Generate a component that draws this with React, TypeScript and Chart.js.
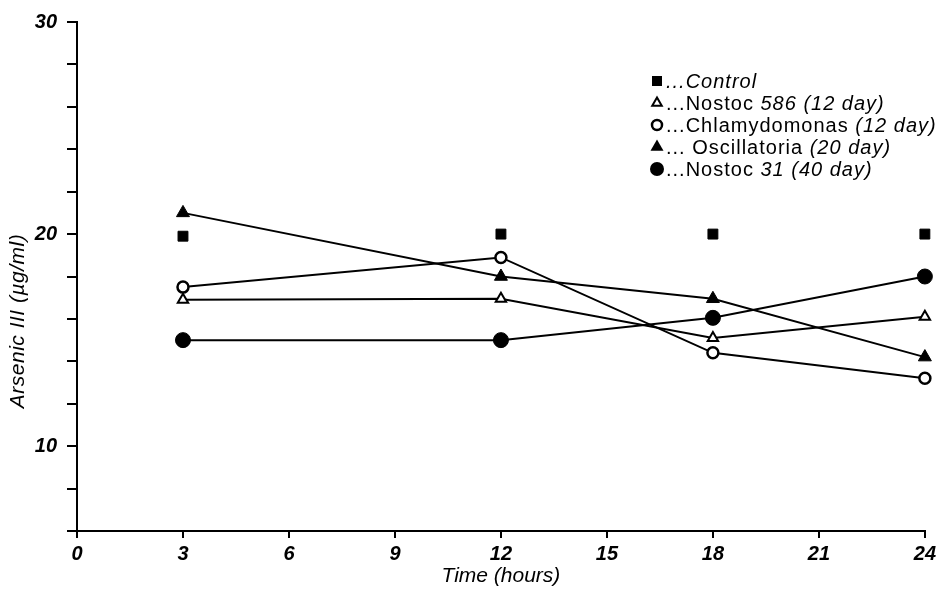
import React, { useEffect, useRef } from 'react';
import { Chart, registerables } from 'chart.js';

Chart.register(...registerables);

// ---- data ----
const hours = [3, 12, 18, 24];
const control = [19.9, 20.0, 20.0, 20.0];
const nostoc586 = [16.9, 16.95, 15.1, 16.1];
const chlamydomonas = [17.5, 18.9, 14.4, 13.2];
const oscillatoria = [21.0, 18.0, 16.95, 14.2];
const nostoc31 = [15.0, 15.0, 16.05, 18.0];

const xTickValues = [0, 3, 6, 9, 12, 15, 18, 21, 24];
const yLabelledTicks = [10, 20, 30];
const xTitle = 'Time (hours)';
const yTitle = 'Arsenic III (µg/ml)';

type Part = { text: string; italic: boolean };
const legendMarkers = ['square', 'openTriangle', 'openCircle', 'triangle', 'circle'];
const legendParts: Part[][] = [
  [{ text: '...Control', italic: true }],
  [{ text: '...Nostoc ', italic: false }, { text: '586 (12 day)', italic: true }],
  [{ text: '...Chlamydomonas ', italic: false }, { text: '(12 day)', italic: true }],
  [{ text: '... Oscillatoria ', italic: false }, { text: '(20 day)', italic: true }],
  [{ text: '...Nostoc ', italic: false }, { text: '31 (40 day)', italic: true }],
];

const FONT = '"Liberation Sans", Arial, Helvetica, sans-serif';

const toPoints = (ys: number[]) => hours.map((x, i) => ({ x, y: ys[i] }));

function drawMarker(ctx: CanvasRenderingContext2D, kind: string, x: number, y: number) {
  ctx.save();
  ctx.fillStyle = '#000';
  ctx.strokeStyle = '#000';
  ctx.lineWidth = 2;
  ctx.beginPath();
  if (kind === 'square') {
    ctx.rect(x - 5, y - 5, 10, 10);
    ctx.fill();
  } else if (kind === 'openTriangle' || kind === 'triangle') {
    const r = kind === 'triangle' ? 7.5 : 5.5;
    ctx.moveTo(x, y - r);
    ctx.lineTo(x + r * 0.866, y + r * 0.5);
    ctx.lineTo(x - r * 0.866, y + r * 0.5);
    ctx.closePath();
    if (kind === 'triangle') ctx.fill();
    else {
      ctx.fillStyle = '#fff';
      ctx.fill();
      ctx.stroke();
    }
  } else if (kind === 'openCircle') {
    ctx.arc(x, y, 5, 0, Math.PI * 2);
    ctx.fillStyle = '#fff';
    ctx.fill();
    ctx.lineWidth = 2.5;
    ctx.stroke();
  } else {
    ctx.arc(x, y, 7, 0, Math.PI * 2);
    ctx.fill();
  }
  ctx.restore();
}

const paperPlugin = {
  id: 'paperText',
  afterDraw(chart: any) {
    const ctx: CanvasRenderingContext2D = chart.ctx;
    ctx.save();
    ctx.fillStyle = '#000';
    ctx.textBaseline = 'middle';
    (ctx as any).letterSpacing = '1px';
    legendParts.forEach((parts, i) => {
      const y = 81 + i * 22;
      drawMarker(ctx, legendMarkers[i], 657, y);
      let x = 666;
      parts.forEach((p) => {
        ctx.font = `${p.italic ? 'italic ' : ''}20px ${FONT}`;
        ctx.fillText(p.text, x, y + 1);
        x += ctx.measureText(p.text).width;
      });
    });
    // y-axis title, rotated, placed as in the original figure
    (ctx as any).letterSpacing = '0.5px';
    ctx.translate(18, 321);
    ctx.rotate(-Math.PI / 2);
    ctx.textAlign = 'center';
    ctx.font = `italic 21px ${FONT}`;
    ctx.fillText(yTitle, 0, 0);
    ctx.restore();
  },
};

export default function App() {
  const ref = useRef<HTMLCanvasElement | null>(null);

  useEffect(() => {
    if (!ref.current) return;
    const black = '#000';
    const lineDs = (label: string, data: number[], style: string, radius: number, filled: boolean, bw: number) => ({
      label,
      data: toPoints(data),
      borderColor: black,
      borderWidth: 2,
      pointStyle: style,
      pointRadius: radius,
      pointBackgroundColor: filled ? black : '#fff',
      pointBorderColor: black,
      pointBorderWidth: bw,
      showLine: true,
      tension: 0,
      fill: false,
      clip: false,
    });

    const tickFont = { family: FONT, size: 20, style: 'italic', weight: 'bold' };

    const chart = new Chart(ref.current, {
      type: 'scatter',
      data: {
        datasets: [
          {
            label: 'Control',
            data: toPoints(control),
            showLine: false,
            pointStyle: 'rect',
            pointRadius: 7,
            pointBackgroundColor: black,
            pointBorderColor: black,
            pointBorderWidth: 1,
            clip: false,
          },
          lineDs('Nostoc 586 (12 day)', nostoc586, 'triangle', 6, false, 2),
          lineDs('Chlamydomonas (12 day)', chlamydomonas, 'circle', 5.5, false, 2.5),
          lineDs('Oscillatoria (20 day)', oscillatoria, 'triangle', 7.5, true, 1),
          lineDs('Nostoc 31 (40 day)', nostoc31, 'circle', 7.5, true, 1),
        ] as any,
      },
      options: {
        animation: false,
        responsive: false,
        maintainAspectRatio: false,
        layout: { padding: { top: 20, right: 15, left: 0, bottom: 0 } },
        plugins: {
          legend: { display: false },
          tooltip: { enabled: false },
        },
        scales: {
          x: {
            type: 'linear',
            min: 0,
            max: 24,
            afterBuildTicks: (scale: any) => {
              scale.ticks = xTickValues.map((v) => ({ value: v }));
            },
            ticks: {
              color: black,
              font: tickFont,
              padding: 4,
              maxRotation: 0,
              callback: (v: any) => String(v),
            },
            grid: { drawOnChartArea: false, drawTicks: true, tickLength: 7, color: black, lineWidth: 2 },
            border: { display: true, color: black, width: 2 },
            title: {
              display: true,
              text: xTitle,
              color: black,
              font: { family: FONT, size: 21, style: 'italic' },
              padding: { top: 0, bottom: 2 },
            },
            afterFit: (scale: any) => {
              scale.height = 60;
            },
          },
          y: {
            type: 'linear',
            min: 6,
            max: 30,
            ticks: {
              stepSize: 2,
              color: black,
              font: tickFont,
              padding: 10,
              callback: (v: any) => (yLabelledTicks.includes(Number(v)) ? String(v) : ''),
            },
            grid: { drawOnChartArea: false, drawTicks: true, tickLength: 10, color: black, lineWidth: 2 },
            border: { display: true, color: black, width: 2 },
            title: { display: false },
            afterFit: (scale: any) => {
              scale.width = 77;
            },
          },
        },
      } as any,
      plugins: [paperPlugin],
    });
    return () => chart.destroy();
  }, []);

  return (
    <div style={{ position: 'fixed', left: 0, top: 0, width: 940, height: 591, background: '#fff' }}>
      <canvas ref={ref} width={940} height={591} style={{ display: 'block', width: 940, height: 591 }} />
    </div>
  );
}
